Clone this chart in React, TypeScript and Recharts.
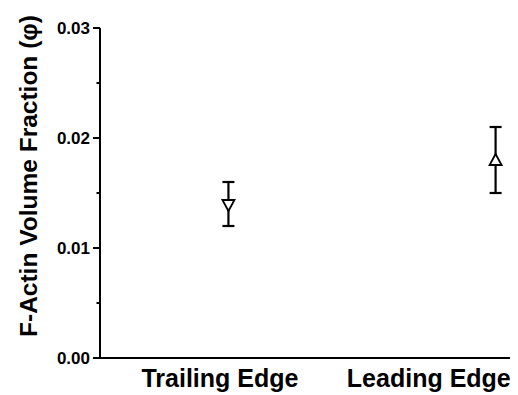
import { ScatterChart, Scatter, XAxis, YAxis, ErrorBar } from 'recharts';

const categories = ['Trailing Edge', 'Leading Edge'];
const labelPos = [0.934, 2.56];
const pointPos = [1, 3.08];
const means = [0.014, 0.018];
const errors = [0.002, 0.003];
const yTicks = [0, 0.005, 0.01, 0.015, 0.02, 0.025, 0.03];

const trailing = [{ x: pointPos[0], y: means[0], err: errors[0] }];
const leading = [{ x: pointPos[1], y: means[1], err: errors[1] }];

const font = '"Liberation Sans", Arial, sans-serif';

function DownTriangle(props: any) {
  const { cx, cy } = props;
  return (
    <polygon
      points={`${cx - 6},${cy - 4} ${cx + 6},${cy - 4} ${cx},${cy + 7}`}
      fill="#fff"
      stroke="#000"
      strokeWidth={1.8}
    />
  );
}

function UpTriangle(props: any) {
  const { cx, cy } = props;
  return (
    <polygon
      points={`${cx - 6},${cy + 5} ${cx + 6},${cy + 5} ${cx},${cy - 6}`}
      fill="#fff"
      stroke="#000"
      strokeWidth={1.8}
    />
  );
}

function YTick(props: any) {
  const { x, y, payload } = props;
  const v = payload.value;
  const major = Math.round(v * 1000) % 10 === 0;
  return (
    <g>
      <line x1={x - (major ? 7 : 3.5)} x2={x} y1={y} y2={y} stroke="#000" strokeWidth={2} />
      {major && (
        <text
          x={x - 10}
          y={y}
          dy={6}
          textAnchor="end"
          fontFamily={font}
          fontWeight="bold"
          fontSize={17}
          fill="#000"
        >
          {v.toFixed(2)}
        </text>
      )}
    </g>
  );
}

function XTick(props: any) {
  const { x, y, index } = props;
  return (
    <text
      x={x}
      y={y}
      dy={29}
      textAnchor="middle"
      fontFamily={font}
      fontWeight="bold"
      fontSize={25}
      fill="#000"
    >
      {categories[index]}
    </text>
  );
}

function YLabel() {
  return (
    <text
      x={29}
      y={168}
      transform="rotate(-90, 29, 168)"
      textAnchor="middle"
      fontFamily={font}
      fontWeight="bold"
      fontSize={24.5}
      fill="#000"
    >
      F-Actin Volume Fraction (φ)
    </text>
  );
}

export default function App() {
  return (
    <div style={{ width: 510, height: 387 }}>
      <ScatterChart
        width={510}
        height={387}
        margin={{ top: 20, right: 7, left: 0, bottom: 7 }}
      >
        <XAxis
          type="number"
          dataKey="x"
          domain={[0, 3.2]}
          ticks={labelPos}
          tick={<XTick />}
          tickLine={false}
          tickSize={0}
          tickMargin={0}
          height={30}
          axisLine={{ stroke: '#000', strokeWidth: 2 }}
          interval={0}
        />
        <YAxis
          type="number"
          dataKey="y"
          domain={[0, 0.03]}
          ticks={yTicks}
          tick={<YTick />}
          tickLine={false}
          tickSize={0}
          tickMargin={0}
          width={92}
          interval={0}
          axisLine={{ stroke: '#000', strokeWidth: 2 }}
          label={<YLabel />}
        />
        <Scatter data={trailing} shape={<DownTriangle />} isAnimationActive={false}>
          <ErrorBar dataKey="err" direction="y" width={6} stroke="#000" strokeWidth={2.2} isAnimationActive={false} />
        </Scatter>
        <Scatter data={leading} shape={<UpTriangle />} isAnimationActive={false}>
          <ErrorBar dataKey="err" direction="y" width={6} stroke="#000" strokeWidth={2.2} isAnimationActive={false} />
        </Scatter>
      </ScatterChart>
    </div>
  );
}
